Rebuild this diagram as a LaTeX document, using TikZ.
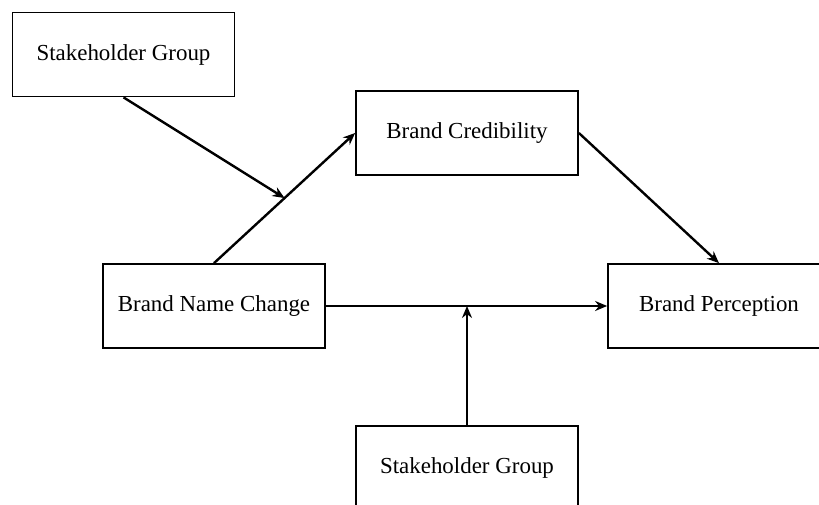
\documentclass[tikz,border=0pt]{standalone}
\usepackage{fontspec}
\setmainfont{Liberation Serif}
\usetikzlibrary{arrows.meta,calc,positioning}

\begin{document}
\begin{tikzpicture}[x=0.75pt, y=-0.75pt, >={Stealth[length=9pt,width=7.5pt]},
                    box/.style={draw, line width=1.3pt, minimum width=166.5pt, minimum height=63pt, font={\fontsize{17.2}{20}\selectfont}},
                    link/.style={->, line width=1.8pt}]
                            \path[use as bounding box, clip] (0,0) rectangle (819,505);

                            \node[box] at (123.5,54.5) (sgtop) {Stakeholder Group};
                            \node[box] at (467,133) (cred) {Brand Credibility};
                            \node[box] at (214,306) (bnc) {Brand Name Change};
                            \node[box] at (719,306) (perc) {Brand Perception};
                            \node[box] at (467,468) (sgbot) {Stakeholder Group};

                            \coordinate (mid) at ($(bnc.north)!0.5!(cred.west)$);
                            \coordinate (cross) at (sgbot.north |- bnc.east);

                            \draw[link] (bnc.north) -- (cred.west);
                            \draw[link] (cred.east) -- (perc.north);
                            \draw[link] (bnc.east) -- (perc.west);
                            \draw[link] (sgtop.south) -- (mid);
                            \draw[link] (sgbot.north) -- (cross);
                     \end{tikzpicture}
\end{document}
